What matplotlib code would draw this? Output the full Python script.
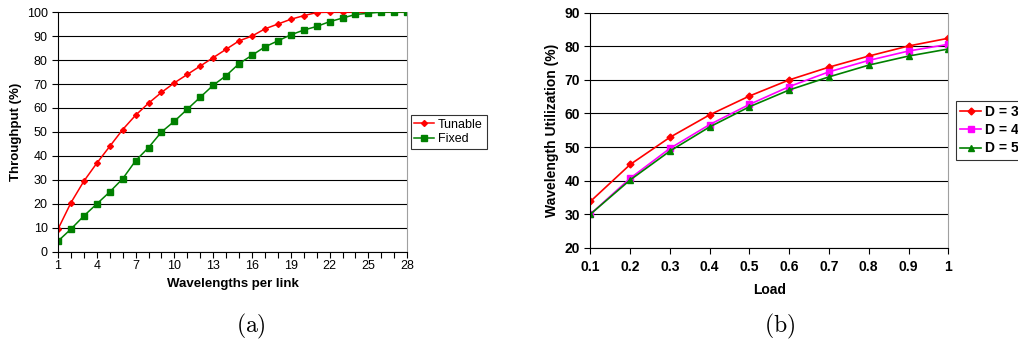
import matplotlib.pyplot as plt
import numpy as np

plt.rcParams['font.family'] = ['Liberation Sans', 'DejaVu Sans']
plt.rcParams['mathtext.fontset'] = 'cm'

# (a) throughput vs wavelengths per link
wavelengths = np.arange(1, 29)
tunable = [9.5, 20.5, 29.5, 37, 44, 51, 57, 62, 66.5, 70.5, 74, 77.5, 81, 84.5,
           88, 90, 93, 95, 97, 98.5, 99.8, 100, 100, 100, 100, 100, 100, 100]
fixed = [4.5, 9.5, 15, 20, 25, 30.5, 38, 43.5, 50, 54.5, 59.5, 64.5, 69.5, 73.5,
         78.5, 82, 85.5, 88, 90.5, 92.5, 94, 96, 97.5, 99, 99.5, 100, 100, 100]

# (b) wavelength utilization vs load
load = [0.1, 0.2, 0.3, 0.4, 0.5, 0.6, 0.7, 0.8, 0.9, 1.0]
load_labels = ['0.1', '0.2', '0.3', '0.4', '0.5', '0.6', '0.7', '0.8', '0.9', '1']
d3 = [33.8, 44.8, 52.9, 59.6, 65.2, 70.0, 73.8, 77.1, 80.1, 82.4]
d4 = [30.0, 40.7, 49.6, 56.7, 62.7, 68.0, 72.4, 75.8, 78.6, 80.6]
d5 = [30.0, 40.2, 48.8, 56.0, 62.0, 67.0, 70.9, 74.4, 77.1, 79.2]

fig = plt.figure(figsize=(10.18, 3.45), dpi=100)

# ---- left panel
ax1 = fig.add_axes([0.057, 0.270, 0.343, 0.695])
ax1.plot(wavelengths, tunable, color='#ff0000', marker='D', markersize=3,
         linewidth=1.1, label='Tunable')
ax1.plot(wavelengths, fixed, color='#008000', marker='s', markersize=4,
         linewidth=1.1, label='Fixed')
ax1.set_xlim(1, 28)
ax1.set_ylim(0, 100)
ax1.set_yticks(np.arange(0, 101, 10))
ax1.set_xticks(np.arange(1, 29, 3))
ax1.set_xticks(np.arange(1, 29), minor=True)
ax1.tick_params(axis='both', labelsize=9, length=4, width=0.8, direction='out')
ax1.tick_params(axis='x', pad=2)
ax1.tick_params(axis='x', which='minor', length=4, width=0.8)
ax1.grid(axis='y', color='black', linewidth=0.8)
ax1.set_axisbelow(True)
ax1.spines['right'].set_color('#a0a0a0')
ax1.spines['top'].set_visible(False)
ax1.set_xlabel('Wavelengths per link', fontsize=9.5, fontweight='bold', labelpad=4)
ax1.set_ylabel('Throughput (%)', fontsize=9.5, fontweight='bold', labelpad=3)
leg1 = ax1.legend(loc='center left', bbox_to_anchor=(1.01, 0.5), fontsize=9,
                  fancybox=False, edgecolor='black', handlelength=1.6,
                  handletextpad=0.3, borderpad=0.3, labelspacing=0.2,
                  borderaxespad=0)
leg1.get_frame().set_linewidth(0.8)

# ---- right panel
ax2 = fig.add_axes([0.580, 0.282, 0.3515, 0.681])
ax2.plot(load, d3, color='#ff0000', marker='D', markersize=3.5,
         linewidth=1.2, label='D = 3')
ax2.plot(load, d4, color='#ff00ff', marker='s', markersize=5,
         linewidth=1.2, label='D = 4')
ax2.plot(load, d5, color='#008000', marker='^', markersize=5,
         linewidth=1.2, label='D = 5')
ax2.set_xlim(0.1, 1.0)
ax2.set_ylim(20, 90)
ax2.set_yticks(np.arange(20, 91, 10))
ax2.set_xticks(load)
ax2.set_xticklabels(load_labels)
ax2.tick_params(axis='both', labelsize=10, length=4, width=0.8, direction='out')
ax2.tick_params(axis='x', pad=5)
for lab in ax2.get_xticklabels() + ax2.get_yticklabels():
    lab.set_fontweight('bold')
ax2.grid(axis='y', color='black', linewidth=0.8)
ax2.set_axisbelow(True)
ax2.spines['right'].set_color('#a0a0a0')
ax2.spines['top'].set_visible(False)
ax2.set_xlabel('Load', fontsize=10, fontweight='bold', labelpad=6)
ax2.set_ylabel('Wavelength Utilization (%)', fontsize=10, fontweight='bold', labelpad=4)
leg2 = ax2.legend(loc='center left', bbox_to_anchor=(1.022, 0.5),
                  prop={'size': 10, 'weight': 'bold'},
                  fancybox=False, edgecolor='black', handlelength=1.5,
                  handletextpad=0.3, borderpad=0.3, labelspacing=0.3,
                  borderaxespad=0)
leg2.get_frame().set_linewidth(0.8)

# captions
fig.text(0.246, 0.055, r'$\mathrm{(a)}$', fontsize=17, ha='center', va='center')
fig.text(0.766, 0.055, r'$\mathrm{(b)}$', fontsize=17, ha='center', va='center')

fig.savefig('out.png', dpi=100)
